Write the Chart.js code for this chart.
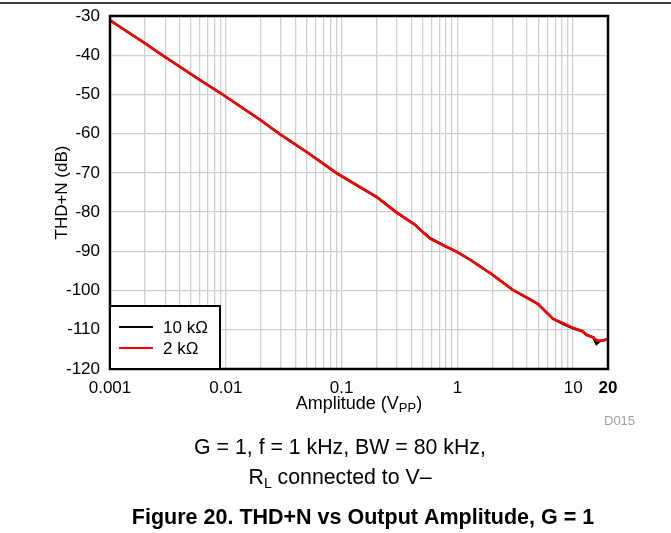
<!DOCTYPE html>
<html>
<head>
<meta charset="utf-8">
<script src="https://cdn.jsdelivr.net/npm/chart.js@4"></script>
<style>
html,body{margin:0;padding:0;background:#fff;}
#wrap{position:relative;width:671px;height:533px;}
</style>
</head>
<body>
<div id="wrap"><canvas id="c" width="671" height="533"></canvas></div>
<script>
// ---- data ----
const amplitude = [0.001, 0.0013, 0.0019, 0.00284, 0.0055, 0.00938, 0.0195, 0.029, 0.053, 0.0898, 0.2, 0.296, 0.43, 0.5, 0.58, 0.7, 0.8, 1.0, 1.3, 2.0, 3.0, 4.2, 5.0, 6.0, 6.7, 8.2, 10, 12, 13, 14.9, 15.9, 17, 19.5, 20];
const thd10k = [-31.1, -33.3, -36.5, -40.0, -45.6, -50.0, -56.3, -60.0, -65.2, -70.0, -76.1, -80.0, -83.2, -85.0, -86.6, -87.9, -88.8, -90.2, -92.2, -95.9, -99.8, -102.2, -103.5, -105.8, -107.2, -108.5, -109.6, -110.4, -111.3, -111.9, -113.6, -112.9, -112.5, -112.4];
const thd2k  = [-31.1, -33.3, -36.5, -40.0, -45.6, -50.0, -56.3, -60.0, -65.2, -70.0, -76.1, -80.0, -83.2, -85.0, -86.8, -88.0, -88.8, -90.2, -92.2, -95.9, -99.8, -102.2, -103.5, -105.8, -107.2, -108.3, -109.5, -110.3, -111.2, -112.0, -112.6, -112.8, -112.5, -112.4];
const seriesLabels = ['10 k\u03A9', '2 k\u03A9'];
const seriesColors = ['#000000', '#ff0000'];
const xTickLabels = ['0.001', '0.01', '0.1', '1', '10', '20'];
const xTickValues = [0.001, 0.01, 0.1, 1, 10, 20];
const yTicks = [-120, -110, -100, -90, -80, -70, -60, -50, -40, -30];
const yTitle = 'THD+N (dB)';
const xTitleMain = 'Amplitude (V';
const xTitleSub = 'PP';
const xTitleEnd = ')';
const caption1 = 'G = 1, f = 1 kHz, BW = 80 kHz,';
const caption2a = 'R';
const caption2sub = 'L';
const caption2b = ' connected to V\u2013';
const figTitle = 'Figure 20. THD+N vs Output Amplitude, G = 1';
const figCode = 'D015';

// grid positions (log minor lines)
const gridValues = [];
for (let e = -3; e <= 0; e++) {
  for (let m = 1; m <= 9; m++) gridValues.push(parseFloat((m * Math.pow(10, e)).toPrecision(6)));
}
gridValues.push(10, 20);

const FONT = '"Liberation Sans", Arial, sans-serif';

function labelFor(v) {
  for (let i = 0; i < xTickValues.length; i++) {
    if (Math.abs(v - xTickValues[i]) < 1e-9 * Math.max(1, v)) return xTickLabels[i];
  }
  return '';
}

const decor = {
  id: 'decor',
  afterDraw(chart) {
    const ctx = chart.ctx;
    const a = chart.chartArea;
    ctx.save();
    // top rule
    ctx.strokeStyle = '#000';
    ctx.lineWidth = 1.5;
    ctx.beginPath(); ctx.moveTo(0, 3); ctx.lineTo(671, 3); ctx.stroke();
    // frame
    ctx.lineWidth = 2.5;
    ctx.strokeRect(a.left, a.top, a.right - a.left, a.bottom - a.top);
    // legend
    const lx = a.left, ly = 306, lw = 110, lh = a.bottom - 306;
    ctx.fillStyle = '#fff';
    ctx.fillRect(lx, ly, lw, lh);
    ctx.lineWidth = 2;
    ctx.strokeRect(lx, ly, lw, lh);
    ctx.font = '17px ' + FONT;
    ctx.textBaseline = 'middle';
    ctx.textAlign = 'left';
    chart.data.datasets.forEach((ds, i) => {
      const yy = 327 + i * 21;
      ctx.strokeStyle = ds.borderColor;
      ctx.lineWidth = 2;
      ctx.beginPath(); ctx.moveTo(119, yy); ctx.lineTo(153, yy); ctx.stroke();
      ctx.fillStyle = '#000';
      ctx.fillText(ds.label, 163, yy + 1);
    });
    // y title
    ctx.fillStyle = '#000';
    ctx.font = '17px ' + FONT;
    ctx.save();
    ctx.translate(62, (a.top + a.bottom) / 2);
    ctx.rotate(-Math.PI / 2);
    ctx.textAlign = 'center';
    ctx.textBaseline = 'middle';
    ctx.fillText(yTitle, 0, 0);
    ctx.restore();
    // x title with subscript
    ctx.textBaseline = 'middle';
    ctx.textAlign = 'left';
    const fMain = '18px ' + FONT, fSub = '13px ' + FONT;
    ctx.font = fMain; const w1 = ctx.measureText(xTitleMain).width; const w3 = ctx.measureText(xTitleEnd).width;
    ctx.font = fSub; const w2 = ctx.measureText(xTitleSub).width;
    let x0 = (a.left + a.right) / 2 - (w1 + w2 + w3) / 2;
    const ty = 404;
    ctx.font = fMain; ctx.fillText(xTitleMain, x0, ty);
    ctx.font = fSub; ctx.fillText(xTitleSub, x0 + w1, ty + 4);
    ctx.font = fMain; ctx.fillText(xTitleEnd, x0 + w1 + w2, ty);
    // code
    ctx.fillStyle = '#a0a0a0';
    ctx.font = '13px ' + FONT;
    ctx.fillText(figCode, 604, 421);
    // captions
    ctx.fillStyle = '#000';
    ctx.textAlign = 'left';
    ctx.font = '21.3px ' + FONT;
    const wc1 = ctx.measureText(caption1).width;
    ctx.fillText(caption1, 340 - wc1 / 2, 448);
    ctx.font = '21.3px ' + FONT; const wr = ctx.measureText(caption2a).width; const wb = ctx.measureText(caption2b).width;
    ctx.font = '14px ' + FONT; const wl = ctx.measureText(caption2sub).width;
    const c2x = 340 - (wr + wl + wb) / 2;
    ctx.font = '21.3px ' + FONT;
    ctx.fillText(caption2a, c2x, 478);
    ctx.font = '14px ' + FONT;
    ctx.fillText(caption2sub, c2x + wr, 484);
    ctx.font = '21.3px ' + FONT;
    ctx.fillText(caption2b, c2x + wr + wl, 478);
    // figure title
    ctx.font = 'bold 21.5px ' + FONT;
    ctx.textAlign = 'center';
    ctx.fillText(figTitle, 363, 518);
    ctx.restore();
  }
};

new Chart(document.getElementById('c'), {
  type: 'line',
  data: {
    datasets: [
      { label: seriesLabels[0], data: amplitude.map((x, i) => ({ x, y: thd10k[i] })), borderColor: seriesColors[0], borderWidth: 2.5, pointRadius: 0, tension: 0, order: 1, fill: false },
      { label: seriesLabels[1], data: amplitude.map((x, i) => ({ x, y: thd2k[i] })), borderColor: seriesColors[1], borderWidth: 2.5, pointRadius: 0, tension: 0, order: 0, fill: false }
    ]
  },
  options: {
    responsive: false,
    animation: false,
    devicePixelRatio: 1,
    layout: { padding: { left: 0, top: 16, right: 63, bottom: 0 } },
    plugins: { legend: { display: false }, tooltip: { enabled: false }, title: { display: false } },
    scales: {
      x: {
        type: 'logarithmic',
        min: 0.001, max: 20,
        afterBuildTicks: (s) => { s.ticks = gridValues.map(v => ({ value: v })); },
        afterFit: (s) => { s.height = 164; s.paddingLeft = 0; s.paddingRight = 0; },
        grid: { color: '#d0d0d0', lineWidth: 1.3, drawTicks: false },
        border: { display: false },
        ticks: {
          autoSkip: false, maxRotation: 0, minRotation: 0, padding: 9, color: '#000',
          font: (c) => ({ family: FONT, size: 17, weight: (c.tick && c.tick.value === 20) ? 'bold' : 'normal' }),
          callback: (v) => labelFor(v)
        }
      },
      y: {
        type: 'linear',
        min: -120, max: -30,
        afterBuildTicks: (s) => { s.ticks = yTicks.map(v => ({ value: v })); },
        afterFit: (s) => { s.width = 110; s.paddingTop = 0; s.paddingBottom = 0; },
        grid: { color: '#d0d0d0', lineWidth: 1.3, drawTicks: false },
        border: { display: false },
        ticks: { padding: 10, color: '#000', font: { family: FONT, size: 17 }, callback: (v) => String(v) }
      }
    }
  },
  plugins: [decor]
});
</script>
</body>
</html>
